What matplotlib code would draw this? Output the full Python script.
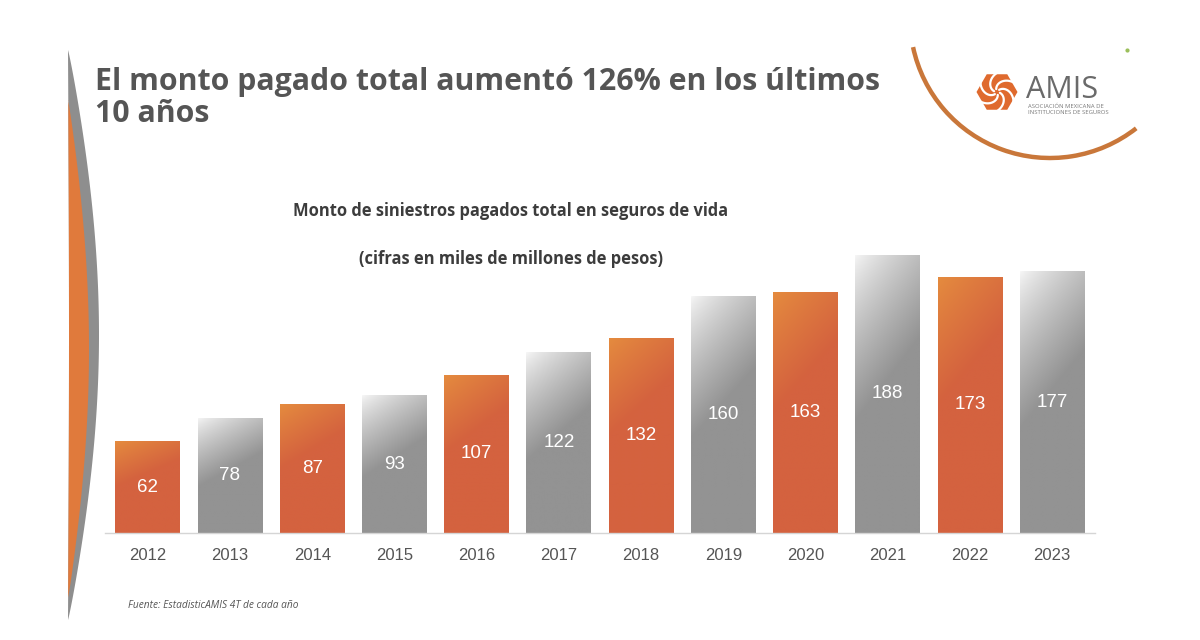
import numpy as np
import matplotlib
matplotlib.use("Agg")
import matplotlib.pyplot as plt
from matplotlib.patches import Polygon, Arc, RegularPolygon

# ---- data ----
years = ["2012", "2013", "2014", "2015", "2016", "2017", "2018", "2019", "2020", "2021", "2022", "2023"]
values = [62, 78, 87, 93, 107, 122, 132, 160, 163, 188, 173, 177]
title_line1 = "El monto pagado total aumentó 126% en los últimos"
title_line2 = "10 años"
subtitle1 = "Monto de siniestros pagados total en seguros de vida"
subtitle2 = "(cifras en miles de millones de pesos)"
source = "Fuente: EstadisticAMIS 4T de cada año"

W, H = 1200, 640
fig = plt.figure(figsize=(12, 6.4), dpi=100)
fig.patch.set_facecolor("white")

# background overlay in pixel coordinates
bg = fig.add_axes([0, 0, 1, 1], zorder=0)
bg.set_xlim(0, W)
bg.set_ylim(H, 0)
bg.axis("off")

def to_rgb(h):
    h = h.lstrip("#")
    return np.array([int(h[i:i + 2], 16) / 255 for i in (0, 2, 4)])

# left swoosh (gray outer, orange inner)
ys = np.linspace(50, 620, 200)
s = (ys - 50) / (620 - 50)
xr_gray = 68 + 31 * np.sin(np.pi * s) ** 0.9
xl = 68 + 1.0 * np.sin(np.pi * s)
gray_poly = np.column_stack([np.r_[xl, xr_gray[::-1]], np.r_[ys, ys[::-1]]])
bg.add_patch(Polygon(gray_poly, closed=True, fc="#8E8E8E", ec="none"))
ys2 = np.linspace(100, 598, 200)
s2 = (ys2 - 100) / (598 - 100)
xr_or = 68 + 21 * np.sin(np.pi * s2) ** 0.9
xl2 = 68 + 1.0 * np.sin(np.pi * ((ys2 - 50) / 570))
or_poly = np.column_stack([np.r_[xl2, xr_or[::-1]], np.r_[ys2, ys2[::-1]]])
bg.add_patch(Polygon(or_poly, closed=True, fc="#E07A3C", ec="none"))

# right arc around logo (y axis inverted: positive angles go downward)
bg.add_patch(Arc((1050, 18), 280, 280, theta1=52, theta2=168, color="#C9773A", lw=3.2))
bg.plot([1127], [50], marker="o", ms=2, color="#9BBF5A")

# logo hexagon
cx, cy = 997, 92
bg.add_patch(RegularPolygon((cx, cy), numVertices=6, radius=20.5, orientation=np.pi / 6,
                            fc="#DF6A2E", ec="none"))
for k in range(6):
    a = np.deg2rad(60 * k + 15)
    t = np.linspace(0, 1, 30)
    ang = a + 1.3 * t
    r = 3 + 16 * t
    bg.plot(cx + r * np.cos(ang), cy + r * np.sin(ang), color="white", lw=1.6, solid_capstyle="round")
bg.text(1026, 98, "AMIS", fontsize=22, color="#6A6A6A", family="Open Sans", va="baseline", ha="left")
bg.text(1028, 106, "ASOCIACIÓN MEXICANA DE", fontsize=4.2, color="#777777", family="Open Sans", va="center", ha="left")
bg.text(1028, 113, "INSTITUCIONES DE SEGUROS", fontsize=4.2, color="#777777", family="Open Sans", va="center", ha="left")

# titles
bg.text(95, 90, title_line1, fontsize=21.8, fontweight="bold",
        color="#555555", family="Open Sans", va="baseline", ha="left")
bg.text(95, 122, title_line2, fontsize=21.8, fontweight="bold",
        color="#555555", family="Open Sans", va="baseline", ha="left")
bg.text(511, 211, subtitle1, fontsize=11.9, fontweight="bold", color="#3C3C3C",
        family="Open Sans", va="center", ha="center")
bg.text(511, 259, subtitle2, fontsize=11.9, fontweight="bold", color="#3C3C3C",
        family="Open Sans", va="center", ha="center")
bg.text(128, 606, source, fontsize=7.3, style="italic", color="#555555",
        family="Open Sans", va="center", ha="left")

# ---- main chart ----
left, right = 105 / W, 1095 / W
bottom = 1 - 533 / H
top_px = 533 - 200 * 1.48
ax = fig.add_axes([left, bottom, right - left, (533 - top_px) / H], zorder=1)
ax.patch.set_alpha(0)
x = np.arange(len(years))
bw = 0.79
bars = ax.bar(x, values, width=bw, color="none", edgecolor="none")

orange_a, orange_b = to_rgb("#E58C3E"), to_rgb("#D4623F")
gray_a, gray_b = to_rgb("#F7F7F7"), to_rgb("#939393")
nu, nv = 60, 200
u = np.linspace(0, 1, nu)[None, :]
v = np.linspace(0, 1, nv)[:, None]
for i, b in enumerate(bars):
    if i % 2 == 0:
        tt = np.clip((v + 0.3 * u) / 0.5, 0, 1) ** 0.9
        ca, cb = orange_a, orange_b
    else:
        tt = np.clip((v + 0.3 * u) / 0.6, 0, 1) ** 0.8
        ca, cb = gray_a, gray_b
    img = ca[None, None, :] * (1 - tt[..., None]) + cb[None, None, :] * tt[..., None]
    x0 = b.get_x()
    im = ax.imshow(img, extent=[x0, x0 + b.get_width(), 0, b.get_height()],
                   origin="upper", aspect="auto", zorder=2, interpolation="bilinear")
    im.set_clip_path(b)
    ax.text(b.get_x() + b.get_width() / 2, b.get_height() / 2, str(values[i]),
            ha="center", va="center", color="white", fontsize=13.5,
            family="Liberation Sans", zorder=3)

ax.set_xlim(-0.52, 11.52)
ax.set_ylim(0, 200)
ax.set_xticks(x)
ax.set_xticklabels(years, fontsize=12, color="#555555", family="Liberation Sans")
ax.tick_params(axis="x", length=0, pad=11)
ax.set_yticks([])
for sp in ["top", "right", "left"]:
    ax.spines[sp].set_visible(False)
ax.spines["bottom"].set_color("#D5D5D5")
ax.spines["bottom"].set_linewidth(1)

fig.savefig("out.png", dpi=100, facecolor="white")
